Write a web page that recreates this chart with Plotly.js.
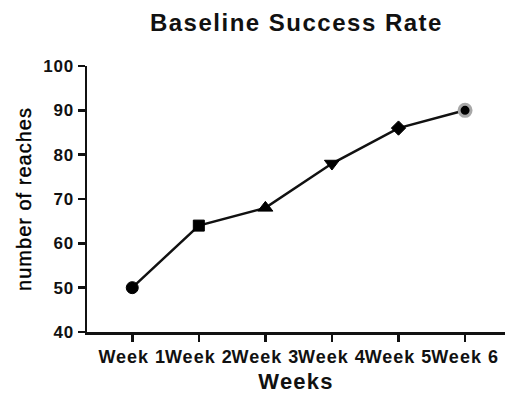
<!DOCTYPE html>
<html>
<head>
<meta charset="utf-8">
<script src="https://cdn.plot.ly/plotly-3.0.1.min.js"></script>
<style>
  html, body { margin: 0; padding: 0; background: #fff; }
  #chart { width: 505px; height: 394px; }
  /* slightly tracked lettering throughout the chart */
  #chart .gtitle { letter-spacing: 1.5px; }
  #chart .xtick text { letter-spacing: 1px; }
  #chart .ytick text { letter-spacing: 0.8px; }
  #chart .xtitle { letter-spacing: 1.2px; }
  #chart .ytitle { letter-spacing: 1px; stroke: #000; stroke-width: 0.4px; }
</style>
</head>
<body>
<div id="chart"></div>
<script>
// Weekly reach counts
const weeks = ["Week 1", "Week 2", "Week 3", "Week 4", "Week 5", "Week 6"];
const reaches = [50, 64, 68, 78, 86, 90];
const symbols = ["circle", "square", "triangle-up", "triangle-down", "diamond", "circle"];
const yTicks = [40, 50, 60, 70, 80, 90, 100];

const family = "Liberation Sans, Arial, sans-serif";
const bold = { family: family, color: "#111", weight: "bold" };

const trace = {
  x: weeks.map((_, i) => i),
  y: reaches,
  type: "scatter",
  mode: "lines+markers",
  line: { color: "#111", width: 2.5 },
  marker: {
    symbol: symbols,
    size: [12, 11, 13, 13, 11, 12],
    color: "#000",
    opacity: 1,
    line: { color: ["#000", "#000", "#000", "#000", "#000", "#a8a8a8"], width: [1, 1, 1, 1, 1, 3] }
  },
  cliponaxis: false,
  hoverinfo: "skip"
};

const layout = {
  width: 505,
  height: 394,
  margin: { l: 87, r: 0, t: 66, b: 62 },
  paper_bgcolor: "#fff",
  plot_bgcolor: "#fff",
  showlegend: false,
  title: {
    text: "Baseline Success Rate",
    font: Object.assign({}, bold, { size: 24 }),
    x: 0.587, xanchor: "center",
    y: 0.942, yanchor: "middle"
  },
  xaxis: {
    range: [-0.68, 5.6],
    tickvals: weeks.map((_, i) => i),
    ticktext: weeks,
    showgrid: false,
    zeroline: false,
    showline: true,
    linecolor: "#111",
    linewidth: 2.5,
    ticks: "outside",
    ticklen: 7,
    tickwidth: 2.5,
    tickcolor: "#111",
    tickfont: Object.assign({}, bold, { size: 18 }),
    title: { text: "Weeks", font: Object.assign({}, bold, { size: 22 }), standoff: 10 }
  },
  yaxis: {
    range: [40, 100],
    tickvals: yTicks,
    showgrid: false,
    zeroline: false,
    showline: true,
    linecolor: "#111",
    linewidth: 2.5,
    ticks: "outside",
    ticklen: 7,
    tickwidth: 2.5,
    tickcolor: "#111",
    tickfont: Object.assign({}, bold, { size: 17 }),
    title: { text: "number of reaches", font: { family: family, color: "#000", size: 20 }, standoff: 9 }
  }
};

Plotly.newPlot("chart", [trace], layout, { staticPlot: true, displayModeBar: false });
</script>
</body>
</html>
